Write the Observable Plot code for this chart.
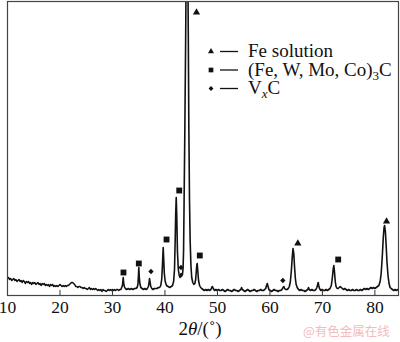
<!DOCTYPE html>
<html>
<head>
<meta charset="utf-8">
<script src="https://cdn.jsdelivr.net/npm/d3@7"></script>
<script src="https://cdn.jsdelivr.net/npm/@observablehq/plot@0.6"></script>
<style>
  html, body { margin: 0; padding: 0; background: #fff; }
  #chart { width: 400px; height: 342px; overflow: hidden; }
</style>
</head>
<body>
<div id="chart"></div>
<script>
// ---- Data ----
// diffraction trace: 2θ (degrees) and intensity (arbitrary units)
const twoTheta = [
  10.0,10.2,10.4,10.6,10.8,11.0,11.2,11.4,11.6,11.8,12.0,12.2,12.4,12.6,12.8,13.0,13.2,13.4,13.6,13.8,
  14.0,14.2,14.4,14.6,14.8,15.0,15.2,15.4,15.6,15.8,16.0,16.2,16.4,16.6,16.8,17.0,17.2,17.4,17.6,17.8,
  18.0,18.2,18.4,18.6,18.8,19.0,19.2,19.4,19.6,19.8,20.0,20.2,20.4,20.6,20.8,21.0,21.2,21.4,21.6,21.8,
  22.0,22.2,22.4,22.6,22.8,23.0,23.2,23.4,23.6,23.8,24.0,24.2,24.4,24.6,24.8,25.0,25.2,25.4,25.6,25.8,
  26.0,26.2,26.4,26.6,26.8,27.0,27.2,27.4,27.6,27.8,28.0,28.2,28.4,28.6,28.8,29.0,29.2,29.4,29.6,29.8,
  30.0,30.2,30.4,30.6,30.8,31.0,31.2,31.4,31.6,
  31.75,31.9,31.98,32.05,32.13,32.25,32.45,32.7,33.0,33.3,33.6,33.9,34.2,34.45,34.7,34.85,34.95,35.02,35.1,35.22,35.4,35.65,
  35.9,36.15,36.4,36.65,36.85,36.97,37.06,37.15,37.3,37.5,37.75,38.0,38.25,38.5,38.75,39.0,39.2,39.38,39.52,39.6,39.67,39.75,39.88,40.05,
  40.3,40.6,40.9,41.2,41.45,41.65,41.82,41.95,42.05,42.15,42.25,42.38,42.55,42.72,42.88,42.98,43.06,43.14,43.24,43.34,43.45,43.55,
  43.65,43.8,43.95,44.05,44.2,44.35,44.45,44.55,44.68,44.8,44.95,45.1,45.3,45.5,45.7,45.85,45.97,46.06,46.15,46.25,46.4,46.6,46.8,
  47.0,47.25,47.5,47.75,48.0,48.25,48.5,48.75,48.9,49.05,49.2,49.45,49.7,49.95,50.2,50.45,50.7,50.95,51.2,51.45,51.7,51.95,
  52.2,52.45,52.7,52.95,53.2,53.45,53.7,53.95,54.2,54.45,54.6,54.75,55.0,55.25,55.5,55.75,56.0,56.25,56.5,56.75,57.0,57.25,
  57.5,57.75,58.0,58.25,58.5,58.75,59.0,59.2,59.35,59.5,59.65,59.8,60.05,60.3,60.55,60.8,61.05,61.3,61.55,61.8,62.05,62.3,
  62.5,62.65,62.8,63.0,63.25,63.5,63.7,63.9,64.1,64.25,64.4,64.55,64.7,64.85,65.0,65.2,65.45,65.7,65.95,66.2,66.45,66.7,
  66.95,67.2,67.35,67.5,67.75,68.0,68.25,68.5,68.75,68.95,69.1,69.2,69.3,69.45,69.7,69.95,70.2,70.45,70.7,70.95,71.2,71.45,
  71.7,71.9,72.05,72.18,72.3,72.45,72.6,72.8,73.0,73.2,73.4,73.6,73.8,74.0,74.25,74.5,74.75,75.0,75.25,75.5,75.75,76.0,
  76.25,76.5,76.75,77.0,77.25,77.5,77.75,78.0,78.25,78.5,78.75,79.0,79.25,79.5,79.75,80.0,80.25,80.5,80.75,81.0,81.2,81.4,
  81.6,81.75,81.85,82.0,82.15,82.3,82.5,82.7,82.9,83.1,83.35,83.6,83.85,84.1,84.35,84.5
];
const intensity = [
  17,18,16,17,15,16,17,15,16,14,15,16,14,15,13,15,14,12,14,13,
  14,12,13,11,13,12,13,11,12,13,11,12,10,12,11,12,10,11,10,11,
  9,11,10,11,9,10,9,10,9,10,11,10,9,10,9,10,9,10,10,11,
  12,13,13,12,11,9,9,8,9,9,8,8,7,8,7,7,6,7,8,6,
  7,6,7,6,7,6,5,6,5,6,4,6,5,5,4,5,6,5,6,5,
  6,5,6,5,6,6,5,6,6,
  8,10,14,18,13,9,7,6,7,6,7,6,7,7,8,11,20,28,19,12,8,7,
  6,7,6,7,9,13,17,14,9,7,6,7,7,7,8,8,10,16,30,40,48,38,22,14,
  10,9,8,9,10,14,26,55,82,98,80,44,26,20,18,19,22,19,20,21,27,45,
  95,170,260,330,480,330,260,170,95,55,30,18,13,11,12,16,24,30,32,25,15,10,8,
  7,6,5,6,5,6,5,6,8,9,7,5,6,5,6,5,5,6,5,4,5,6,
  5,5,4,5,6,5,5,4,5,6,8,6,5,4,5,6,5,4,5,5,6,5,
  4,5,5,6,5,5,6,7,10,12,9,6,5,4,5,6,5,5,4,5,5,6,
  8,9,7,6,6,7,9,14,26,38,47,42,28,17,11,8,6,5,6,5,5,4,
  5,6,8,6,5,6,5,5,6,8,11,13,10,7,5,6,5,5,6,5,6,7,
  10,18,26,30,24,14,9,7,7,8,9,8,7,6,7,6,5,6,5,5,6,5,
  5,6,5,5,6,5,6,7,6,7,6,7,8,7,8,7,8,9,10,14,22,38,
  58,68,70,64,50,34,20,12,8,7,6,5,6,5,6,5
];

// phase markers placed over the peaks
const markerPhase = ["carbide","carbide","VC","carbide","carbide","VC","Fe","carbide","VC","Fe","carbide","Fe"];
const markerTheta = [32.1, 35.02, 37.34, 40.3, 42.72, 43.06, 46.01, 46.64, 62.46, 65.32, 73.01, 82.22];
const markerLevel = [23, 32, 24, 56, 105, 28, 283, 40, 15, 52, 36, 74];

// x-axis ticks
const xTicks = [10, 20, 30, 40, 50, 60, 70, 80];

// legend
const legendPhases = ["Fe", "carbide", "VC"];

// ---- build ----
const trace = twoTheta.map((t, i) => ({t, v: intensity[i]}));
const markers = markerTheta.map((t, i) => ({t, v: markerLevel[i], phase: markerPhase[i]}));
const symbolOf = {Fe: "triangle", carbide: "square", VC: "diamond2"};
const rOf = {Fe: 2.7, carbide: 3.3, VC: 2.4};

const serif = "Liberation Serif";

const chart = Plot.plot({
  width: 400,
  height: 342,
  marginLeft: 7,
  marginRight: 2,
  marginTop: 1,
  marginBottom: 47,
  style: {fontFamily: serif, fontSize: "17px", background: "#fff", color: "#111"},
  x: {domain: [10, 84.5]},
  y: {domain: [0, 294], axis: null},
  marks: [
    Plot.line(trace, {x: "t", y: "v", stroke: "#111", strokeWidth: 1.6, clip: true}),
    ...["Fe","carbide","VC"].map(p =>
      Plot.dot(markers.filter(d => d.phase === p), {x: "t", y: "v", symbol: symbolOf[p], r: rOf[p], fill: "#111", stroke: "none"})
    ),
    Plot.tickX(xTicks, {x: d => d, insetTop: 289, stroke: "#333", strokeWidth: 1}),
    Plot.axisX({ticks: xTicks, tickSize: 0, tickPadding: 5, label: null, fontSize: 17.5, fontFamily: serif, fill: "#111"}),
    Plot.frame({stroke: "#444", strokeWidth: 1.2})
  ]
});

document.getElementById("chart").appendChild(chart);

// ---- overlay text: axis title, legend, watermark ----
const svg = d3.select(chart);

const title = svg.append("text")
  .attr("x", 200).attr("y", 335)
  .attr("text-anchor", "middle")
  .style("font-size", "19px").attr("fill", "#111");
title.append("tspan").text("2");
title.append("tspan").style("font-style", "italic").text("θ");
title.append("tspan").text("/(˚)");

const legendLabels = {
  Fe: [["Fe solution", null]],
  carbide: [["(Fe, W, Mo, Co)", null], ["3", "sub"], ["C", null]],
  VC: [["V", null], ["x", "subi"], ["C", null]]
};
const legendSize = {Fe: 16, carbide: 22, VC: 15};
legendPhases.forEach((p, i) => {
  const yMid = 51.5 + i * 18.5;
  const g = svg.append("g");
  g.append("path")
    .attr("transform", `translate(211,${yMid})`)
    .attr("d", d3.symbol(p === "Fe" ? d3.symbolTriangle : p === "carbide" ? d3.symbolSquare : d3.symbolDiamond2, legendSize[p])())
    .attr("fill", "#111");
  g.append("line").attr("x1", 220).attr("x2", 238).attr("y1", yMid).attr("y2", yMid)
    .attr("stroke", "#111").attr("stroke-width", 1.3);
  const t = g.append("text").attr("x", 248).attr("y", yMid + 5.5)
    .attr("text-anchor", "start")
    .style("font-size", "19px").attr("fill", "#111");
  legendLabels[p].forEach(([s, kind]) => {
    const ts = t.append("tspan").text(s);
    if (kind === "sub") ts.attr("dy", 4).style("font-size", "13px");
    if (kind === "subi") ts.attr("dy", 4).style("font-size", "13px").style("font-style", "italic");
    if (kind === null && (s === "C")) ts.attr("dy", -4);
  });
});

// force the serif face on every text of the chart
svg.selectAll("text").style("font-family", "'Liberation Serif', 'Times New Roman', serif");

svg.append("text")
  .attr("x", 303).attr("y", 336)
  .attr("text-anchor", "start")
  .style("font-family", "'Noto Sans CJK SC', sans-serif").style("font-size", "12.5px")
  .attr("fill", "#f2bcbc")
  .text("@有色金属在线");
</script>
</body>
</html>
